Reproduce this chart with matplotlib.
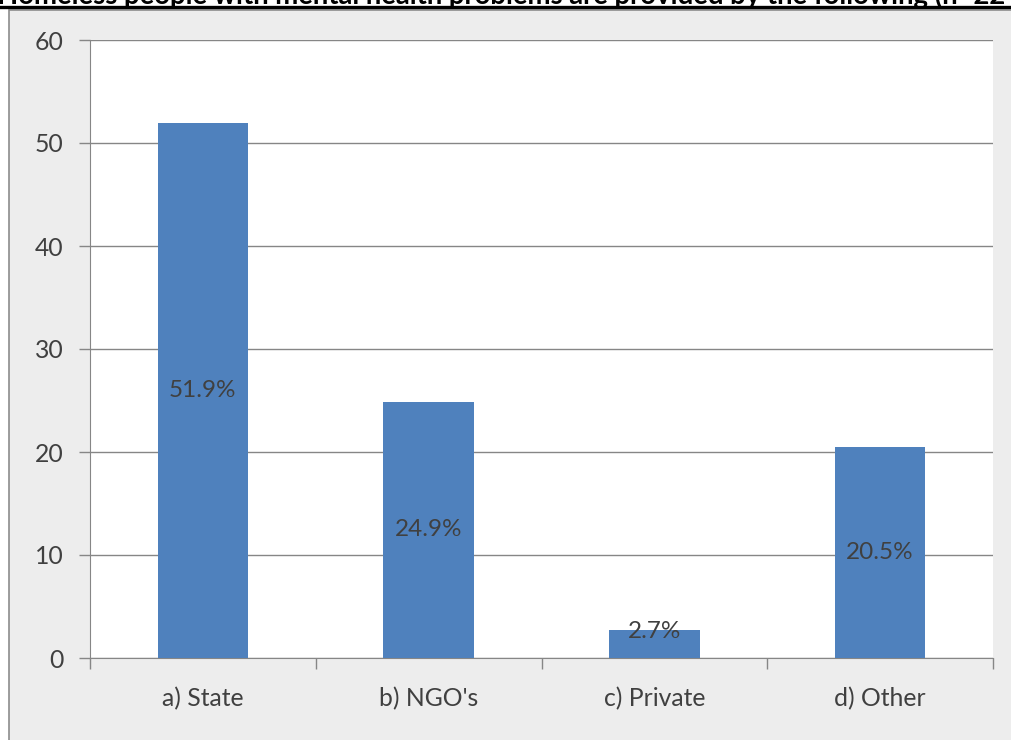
import matplotlib.pyplot as plt
from matplotlib.patches import Rectangle
from matplotlib.lines import Line2D

categories = ["a) State", "b) NGO's", "c) Private", "d) Other"]
values = [51.9, 24.9, 2.7, 20.5]
labels = ["51.9%", "24.9%", "2.7%", "20.5%"]
title = "Homeless people with mental health problems are provided by the following (n=224)"

W, H = 1011, 740


def main():
    plt.rcParams['font.family'] = ['Lato', 'DejaVu Sans']
    fig = plt.figure(figsize=(W / 100, H / 100), dpi=100)
    fig.patch.set_facecolor('white')

    # grey chart area (runs off the right and bottom edges)
    fig.patches.append(Rectangle((9 / W, -0.1), 1.1, 1 - 10 / H + 0.1,
                                 transform=fig.transFigure, facecolor='#EDEDED',
                                 edgecolor='#8C8C8C', linewidth=1.2, zorder=0))

    # clipped title at the top
    fig.text(-3 / W, 1 - 4 / H, title, fontsize=19.8, fontweight='bold',
             color='black', ha='left', va='baseline', zorder=2)
    fig.lines.append(Line2D([0, 1], [1 - 7 / H, 1 - 7 / H], transform=fig.transFigure,
                            color='black', linewidth=2.4, zorder=2))

    ax = fig.add_axes([90 / W, 1 - 658 / H, 903 / W, 618 / H])
    ax.set_zorder(1)
    ax.set_facecolor('white')
    x = range(len(categories))
    ax.bar(x, values, width=0.4, color='#4F81BD', zorder=3)

    for i, (v, lab) in enumerate(zip(values, labels)):
        y = max(v / 2, 2.6)
        ax.text(i, y, lab, ha='center', va='center', fontsize=17.5, color='#404040', zorder=4)

    ax.set_xlim(-0.5, len(categories) - 0.5)
    ax.set_ylim(0, 60)
    ax.set_yticks(range(0, 61, 10))
    ax.yaxis.grid(True, color='#868686', linewidth=1.0, zorder=0)
    ax.set_axisbelow(True)

    ax.set_xticks(x)
    ax.set_xticklabels(categories)
    ax.set_xticks([i - 0.5 for i in range(len(categories) + 1)], minor=True)
    ax.tick_params(axis='x', which='major', length=0, pad=21, labelsize=17.8, labelcolor='#404040')
    ax.tick_params(axis='x', which='minor', length=8, width=1, color='#868686')
    ax.tick_params(axis='y', length=8, width=1, color='#868686', pad=11,
                   labelsize=17.8, labelcolor='#404040')

    for s in ['top', 'right']:
        ax.spines[s].set_visible(False)
    ax.spines['left'].set_color('#868686')
    ax.spines['bottom'].set_color('#868686')

    plt.savefig("out.png", dpi=100, facecolor=fig.get_facecolor())


if __name__ == '__main__':
    main()
